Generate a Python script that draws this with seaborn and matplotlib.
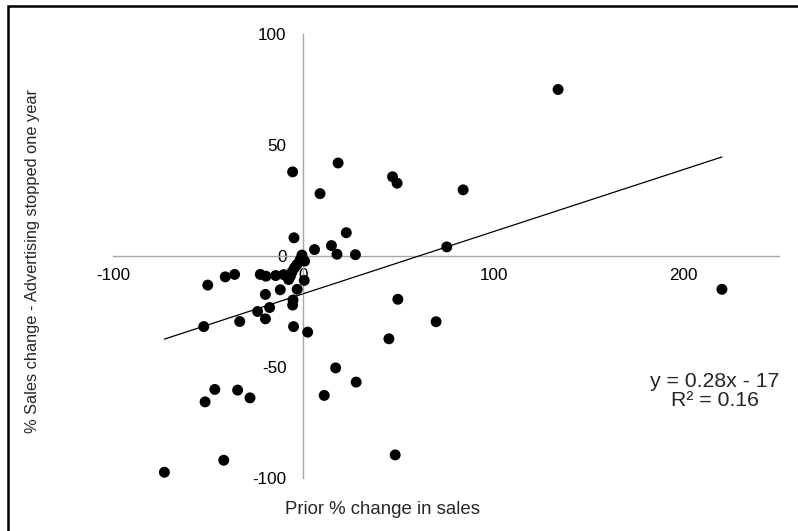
import matplotlib
matplotlib.use("Agg")
import matplotlib.pyplot as plt
import matplotlib.patches as mpatches
import numpy as np
import pandas as pd
import seaborn as sns

# Prior % change in sales (x) vs % sales change after advertising stopped for a year (y)
prior_change = [
    -73.0, -41.8, -51.6, -46.5, -34.5, -28.0, -52.3, -33.4, -50.2, -41.0,
    -36.1, -22.6, -19.6, -14.5, -10.3, -6.8, -7.7, -5.9, -4.6, -3.3,
    -1.6, -0.7, 0.7, 0.5, -19.9, -12.1, -3.2, -5.4, -5.6, -17.7,
    -24.0, -19.9, -5.1, 2.3, -5.6, -4.9, 5.9, 8.8, 18.3, 22.6,
    14.8, 17.7, 27.4, 46.9, 49.3, 84.0, 133.9, 75.4, 49.7, 69.8,
    45.0, 17.0, 27.8, 11.0, 48.3, 220.0,
]
sales_change = [
    -97.4, -92.0, -65.7, -60.1, -60.4, -63.9, -31.8, -29.5, -13.1, -9.4,
    -8.3, -8.3, -9.1, -8.8, -8.4, -9.1, -10.6, -7.1, -5.3, -3.8,
    -1.6, 0.4, -2.3, -11.0, -17.3, -15.2, -15.0, -19.8, -22.1, -23.2,
    -25.0, -28.3, -31.8, -34.3, 37.9, 8.2, 2.9, 28.1, 41.9, 10.5,
    4.7, 0.8, 0.6, 35.7, 32.8, 29.8, 75.0, 4.1, -19.5, -29.6,
    -37.3, -50.4, -56.8, -62.8, -89.6, -15.0,
]

# Linear trendline coefficients and fit quality
slope = 0.28
intercept = -17
r_squared = 0.16

x_ticks = [-100, 0, 100, 200]
y_ticks = [-100, -50, 0, 50, 100]

df = pd.DataFrame({"prior": prior_change, "change": sales_change})

sns.set_style("white")
plt.rcParams["font.family"] = ["Liberation Sans", "DejaVu Sans"]
plt.rcParams["axes.unicode_minus"] = False

W, H = 798, 531
fig = plt.figure(figsize=(W / 100, H / 100), dpi=100)
ax = fig.add_axes([113 / W, 1 - 478 / H, 666 / W, 444 / H])

sns.scatterplot(data=df, x="prior", y="change", ax=ax, s=62,
                color="black", edgecolor="none", zorder=3)

x_line = np.array([min(prior_change), max(prior_change)])
ax.plot(x_line, slope * x_line + intercept, color="black", lw=0.9, zorder=2)

ax.set_xlim(-100, 250)
ax.set_ylim(-100, 100)
ax.set_xticks(x_ticks)
ax.set_yticks(y_ticks)
ax.set_xlabel("")
ax.set_ylabel("")

axis_grey = "#a6a6a6"
for side in ("top", "right"):
    ax.spines[side].set_visible(False)
ax.spines["left"].set_position(("data", 0))
ax.spines["bottom"].set_position(("data", 0))
for side in ("left", "bottom"):
    ax.spines[side].set_color(axis_grey)
    ax.spines[side].set_linewidth(1.0)
    ax.spines[side].set_zorder(1)

ax.tick_params(axis="both", direction="out", length=4, width=1,
               color=axis_grey, labelsize=12.3, labelcolor="black")
ax.tick_params(axis="y", pad=8)
ax.tick_params(axis="x", pad=5)

fig.text(382.5 / W, 1 - 510 / H, "Prior % change in sales",
         ha="center", va="center", fontsize=13.4)
fig.text(33 / W, 1 - 261.5 / H, "% Sales change - Advertising stopped one year",
         ha="center", va="center", rotation=90, fontsize=11.8)
fig.text(714.5 / W, 1 - 391 / H,
         f"y = {slope:.2f}x - {abs(intercept)}\nR\u00b2 = {r_squared:.2f}",
         ha="center", va="center", fontsize=15.3, linespacing=1.0)

# Chart frame
fig.patches.append(mpatches.Rectangle((8 / W, -0.1), 1.2, 1 - 6 / H + 0.1,
                                      transform=fig.transFigure, fill=False,
                                      edgecolor="black", lw=1.8))

fig.savefig("out.png", dpi=100)
